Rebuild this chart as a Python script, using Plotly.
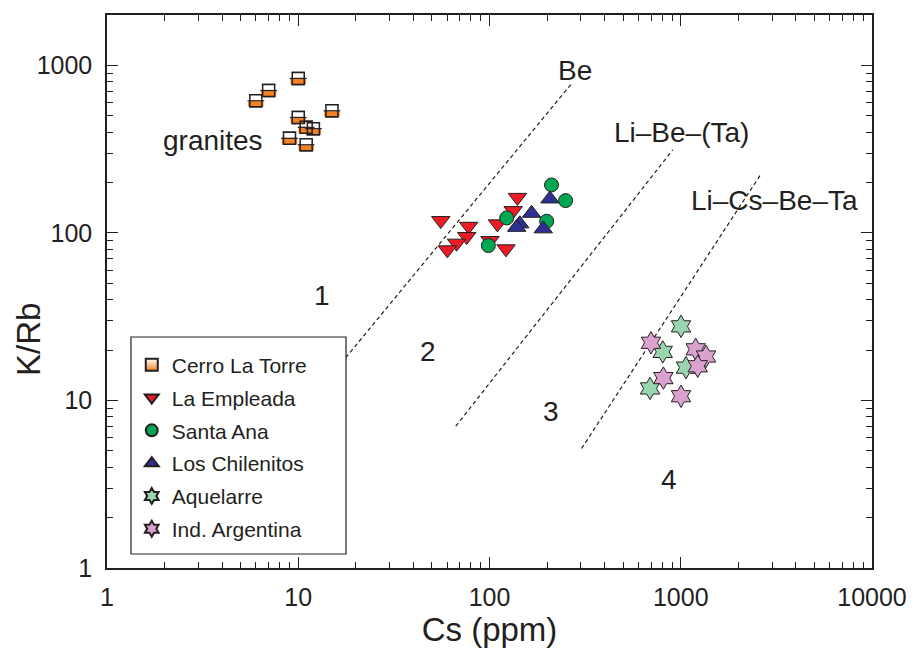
import math
import plotly.graph_objects as go

# ---------------- data ----------------
cerro_cs = [10.0, 7.0, 6.0, 15.0, 10.0, 11.0, 12.0, 9.0, 11.0]
cerro_krb = [836, 708, 615, 536, 489, 427, 419, 367, 336]

empleada_cs = [55.6, 77.8, 76, 67.3, 60.2, 140, 133, 110, 100.6, 122]
empleada_krb = [118.6, 109.6, 95.2, 86.9, 79.3, 163, 136, 113.3, 90.1, 80.4]

santa_cs = [211, 250, 123, 199, 98.6]
santa_krb = [193.5, 156, 123, 117.5, 84.1]

chilen_cs = [207, 166, 144, 138.7, 191]
chilen_krb = [159.6, 131, 113.3, 108, 105.8]

aquel_cs = [1003, 805, 1065, 691]
aquel_krb = [27.7, 19.5, 15.7, 11.8]

indarg_cs = [699, 1197, 1356, 1227, 811, 1003]
indarg_krb = [22.1, 20.2, 18.3, 16.0, 13.6, 10.6]

# boundary lines (Cs, K/Rb end points)
be_line_cs = [17.7, 269]
be_line_krb = [18.0, 780]
libeta_line_cs = [66.6, 908]
libeta_line_krb = [7.02, 313]
licsbeta_line_cs = [303, 2629]
licsbeta_line_krb = [5.17, 225]

# text labels
label_text = ["Be", "Li\u2013Be\u2013(Ta)", "Li\u2013Cs\u2013Be\u2013Ta", "granites", "1", "2", "3", "4"]
label_cs = [280, 1003, 3110, 3.58, 13.3, 47.7, 210, 868]
label_krb = [929, 398, 156, 355, 42.4, 19.6, 8.62, 3.39]

x_ticks = [1, 10, 100, 1000, 10000]
y_ticks = [1, 10, 100, 1000]

# ---------------- styling ----------------
FONT = "Liberation Sans, Arial, Helvetica, sans-serif"
TXT = "#231f20"
EDGE = "#231f20"
ORANGE = "#f58220"
W, H = 923, 649
ML, MR, MT, MB = 107, 51, 15, 81
plot_w = W - ML - MR
plot_h = H - MT - MB
y_max_log = 3.301
decade_px = plot_h / y_max_log
SQ = 12
shift_dn = 10 ** (-(SQ / 4 + 0.25) / decade_px)
shift_up = 10 ** ((SQ / 4 + 0.25) / decade_px)

fig = go.Figure()

for xs, ys in [
    (be_line_cs, be_line_krb),
    (libeta_line_cs, libeta_line_krb),
    (licsbeta_line_cs, licsbeta_line_krb),
]:
    fig.add_trace(go.Scatter(x=xs, y=ys, mode="lines", showlegend=False, hoverinfo="skip",
                             line=dict(color=TXT, width=1.2, dash="4px,3px")))

# Cerro La Torre: half-filled squares (layered)
fig.add_trace(go.Scatter(
    x=cerro_cs, y=cerro_krb, mode="markers", name="Cerro La Torre", legendgroup="g1",
    marker=dict(symbol="square", size=SQ, color="white",
                gradient=dict(type="vertical", color=ORANGE),
                line=dict(color=EDGE, width=1.5))))
fig.add_trace(go.Scatter(
    x=cerro_cs, y=[v * shift_up for v in cerro_krb], mode="markers", showlegend=False, hoverinfo="skip",
    marker=dict(symbol="line-ew", size=SQ - 1, color="white", line=dict(color="white", width=SQ / 2 - 1))))
fig.add_trace(go.Scatter(
    x=cerro_cs, y=[v * shift_dn for v in cerro_krb], mode="markers", showlegend=False, hoverinfo="skip",
    marker=dict(symbol="line-ew", size=SQ - 1, color=ORANGE, line=dict(color=ORANGE, width=SQ / 2 - 1))))
fig.add_trace(go.Scatter(
    x=cerro_cs, y=cerro_krb, mode="markers", showlegend=False, hoverinfo="skip",
    marker=dict(symbol="line-ew", size=SQ, color=EDGE, line=dict(color=EDGE, width=1.2))))
fig.add_trace(go.Scatter(
    x=cerro_cs, y=cerro_krb, mode="markers", showlegend=False, hoverinfo="skip",
    marker=dict(symbol="square-open", size=SQ, color=EDGE, line=dict(color=EDGE, width=1.5))))

series = [
    (empleada_cs, empleada_krb, "La Empleada", "triangle-down", 16, "#ed1c24", "g2"),
    (santa_cs, santa_krb, "Santa Ana", "circle", 14, "#00a651", "g3"),
    (chilen_cs, chilen_krb, "Los Chilenitos", "triangle-up", 16, "#2e3192", "g4"),
    (aquel_cs, aquel_krb, "Aquelarre", "hexagram", 17, "#99d6b0", "g5"),
    (indarg_cs, indarg_krb, "Ind. Argentina", "hexagram", 17, "#dca2cf", "g6"),
]
for xs, ys, nm, sym, sz, col, grp in series:
    fig.add_trace(go.Scatter(x=xs, y=ys, mode="markers", name=nm, legendgroup=grp,
                             marker=dict(symbol=sym, size=sz, color=col,
                                         line=dict(color=EDGE, width=1))))

for t, xv, yv in zip(label_text, label_cs, label_krb):
    fig.add_annotation(x=math.log10(xv), y=math.log10(yv), xref="x", yref="y", text=t,
                       showarrow=False, font=dict(family=FONT, size=28, color=TXT))

# y-axis title placed as in the original (slightly below the axis centre)
fig.add_annotation(x=(28 - ML) / plot_w, y=(H - MB - 340) / plot_h, xref="paper", yref="paper",
                   text="K/Rb", textangle=-90, showarrow=False, xanchor="center", yanchor="middle",
                   font=dict(family=FONT, size=33, color=TXT))

# legend frame (drawn as a white box so the legend covers the dashed line like the original)
lg_x0, lg_x1 = (131 - ML) / plot_w, (346 - ML) / plot_w
lg_y0, lg_y1 = (H - MB - 554) / plot_h, (H - MB - 337) / plot_h
fig.add_shape(type="rect", xref="paper", yref="paper", x0=lg_x0, x1=lg_x1, y0=lg_y0, y1=lg_y1,
              fillcolor="white", line=dict(color=TXT, width=1.2), layer="above")

axis_common = dict(
    type="log", showgrid=False, zeroline=False, showline=True, linecolor=TXT, linewidth=1.5,
    mirror="ticks", ticks="inside", ticklen=11, tickwidth=1.2, tickcolor=TXT, automargin=False,
    minor=dict(ticks="inside", ticklen=6, tickwidth=1, tickcolor=TXT, dtick="D1", showgrid=False),
    tickfont=dict(family=FONT, size=25, color=TXT),
)

fig.update_layout(
    width=W, height=H,
    margin=dict(l=ML, r=MR, t=MT, b=MB, autoexpand=False),
    paper_bgcolor="white", plot_bgcolor="white",
    xaxis=dict(axis_common, range=[0, 4], tickvals=x_ticks, ticktext=[str(v) for v in x_ticks],
               ticklabelstandoff=6,
               title=dict(text="Cs (ppm)", font=dict(family=FONT, size=33, color=TXT), standoff=3)),
    yaxis=dict(axis_common, range=[0, y_max_log], tickvals=y_ticks, ticktext=[str(v) for v in y_ticks],
               ticklabelstandoff=8),
    legend=dict(x=lg_x0 + 0.001, y=lg_y0 + 0.008, xanchor="left", yanchor="bottom",
                bgcolor="rgba(0,0,0,0)", borderwidth=0,
                font=dict(family=FONT, size=21, color=TXT),
                tracegroupgap=2.5, itemsizing="constant"),
    showlegend=True,
)

fig.write_html("out.html", config={"displayModeBar": False},
               post_script="document.body.style.margin='0';document.body.style.overflow='hidden';")
